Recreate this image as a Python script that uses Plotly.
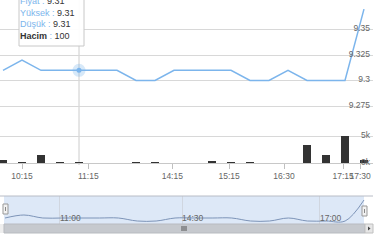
import plotly.graph_objects as go

# ---- data ----
idx = list(range(20))
price = [9.31, 9.32, 9.31, 9.31, 9.31, 9.31, 9.31, 9.30, 9.30, 9.31,
         9.31, 9.31, 9.31, 9.30, 9.30, 9.31, 9.30, 9.30, 9.30, 9.37]
volume = [550, 100, 1500, 100, 100, 0, 0, 100, 100, 0,
          0, 300, 100, 100, 0, 0, 3300, 1500, 5000, 550]
time_tick_pos = [1.0, 4.49, 8.91, 11.9, 14.79, 17.9, 18.8]
time_tick_text = ["10:15", "11:15", "14:15", "15:15", "16:30", "17:15", "17:30"]
nav_tick_pos = [2.91, 9.37, 16.67]
nav_tick_text = ["11:00", "14:30", "17:00"]
price_ticks = [9.275, 9.3, 9.325, 9.35, 9.375]
price_tick_text = ["9.275", "9.3", "9.325", "9.35", ""]
vol_ticks = [0, 5000]
vol_tick_text = ["0k", "5k"]
hover_i = 4

W, H = 380, 240
def py(p):
    return 1 - p / H
def px(p):
    return p / W

FONT = "Liberation Sans"
BLUE = "#7cb5ec"
GRID = "#d8d8d8"

fig = go.Figure()

fig.add_trace(go.Scatter(x=idx, y=price, mode="lines", line=dict(color=BLUE, width=1.5),
                         xaxis="x", yaxis="y", hoverinfo="skip"))
fig.add_trace(go.Scatter(x=[idx[hover_i]], y=[price[hover_i]], mode="markers",
                         marker=dict(size=13, color=BLUE, opacity=0.3, line=dict(width=0)),
                         xaxis="x", yaxis="y", hoverinfo="skip"))
fig.add_trace(go.Scatter(x=[idx[hover_i]], y=[price[hover_i]], mode="markers",
                         marker=dict(size=5, color=BLUE, line=dict(width=0)),
                         xaxis="x", yaxis="y", hoverinfo="skip"))
fig.add_trace(go.Bar(x=idx, y=volume, marker=dict(color="#333333", line=dict(width=0)),
                     width=0.47, xaxis="x2", yaxis="y2", hoverinfo="skip"))
fig.add_trace(go.Scatter(x=idx, y=price, mode="lines", line=dict(color="#7d94b8", width=1, shape="spline"),
                         xaxis="x3", yaxis="y3", hoverinfo="skip"))

xdom = [0, px(373)]
xr = [-0.158, 19.474]

shapes = []
shapes.append(dict(type="rect", xref="paper", yref="paper", x0=px(4), x1=px(364), y0=py(224), y1=py(196),
                   fillcolor="rgba(102,150,220,0.22)", line=dict(width=0), layer="below"))
shapes.append(dict(type="line", xref="paper", yref="paper", x0=px(0), x1=px(373), y0=py(196), y1=py(196),
                   line=dict(color="#b8bcc6", width=1)))
shapes.append(dict(type="rect", xref="paper", yref="paper", x0=px(0), x1=px(373), y0=py(233), y1=py(224),
                   fillcolor="#eeeeee", line=dict(width=0)))
shapes.append(dict(type="rect", xref="paper", yref="paper", x0=px(4), x1=px(365), y0=py(233), y1=py(224),
                   fillcolor="#c6c9ce", line=dict(color="#b8bbc0", width=1)))
shapes.append(dict(type="rect", xref="paper", yref="paper", x0=px(365), x1=px(373), y0=py(233), y1=py(224),
                   fillcolor="#e6e6e6", line=dict(color="#c0c0c0", width=1)))
shapes.append(dict(type="path", xref="paper", yref="paper",
                   path=f"M {px(368)} {py(226.5)} L {px(370.5)} {py(228.5)} L {px(368)} {py(230.5)} Z",
                   fillcolor="#444", line=dict(width=0)))
for gx in (182, 184, 186):
    shapes.append(dict(type="line", xref="paper", yref="paper", x0=px(gx), x1=px(gx), y0=py(231), y1=py(226),
                       line=dict(color="#555", width=1)))
for (hx0, hy0) in ((3, 204), (362, 206)):
    shapes.append(dict(type="rect", xref="paper", yref="paper", x0=px(hx0), x1=px(hx0 + 5), y0=py(hy0 + 10),
                       y1=py(hy0), fillcolor="#f2f2f2", line=dict(color="#999", width=1)))
    shapes.append(dict(type="line", xref="paper", yref="paper", x0=px(hx0 + 2.5), x1=px(hx0 + 2.5),
                       y0=py(hy0 + 7), y1=py(hy0 + 3), line=dict(color="#888", width=1)))
# crosshair
shapes.append(dict(type="line", xref="x", yref="paper", x0=idx[hover_i], x1=idx[hover_i], y0=py(165), y1=1,
                   line=dict(color="#cccccc", width=1), layer="below"))
# tooltip box
shapes.append(dict(type="rect", xref="paper", yref="paper", x0=px(19), x1=px(84), y0=py(46), y1=py(-10),
                   fillcolor="rgba(255,255,255,0.93)", line=dict(color="#c8c8c8", width=1)))

tooltip = (f"<span style='color:{BLUE}'>Fiyat :</span> {price[hover_i]:.2f}<br>"
           f"<span style='color:{BLUE}'>Yüksek :</span> {price[hover_i]:.2f}<br>"
           f"<span style='color:{BLUE}'>Düşük :</span> {price[hover_i]:.2f}<br>"
           f"<b>Hacim</b><span style='color:{BLUE}'> :</span> {volume[hover_i]}")

vol_lo = -1000
vol_hi = 10370
vol_bottom_px = 163 + (-vol_lo) / vol_hi * 56

fig.update_layout(
    width=W, height=H, margin=dict(l=0, r=0, t=0, b=0),
    paper_bgcolor="white", plot_bgcolor="rgba(0,0,0,0)",
    showlegend=False, bargap=0,
    font=dict(family=FONT, size=8.5, color="#666"),
    xaxis=dict(domain=xdom, range=xr, anchor="y", showticklabels=False, showgrid=False,
               zeroline=False, showline=False, fixedrange=True),
    yaxis=dict(domain=[py(111.1), py(4)], range=[9.27, 9.375], side="right", anchor="x",
               tickvals=price_ticks, ticktext=price_tick_text, ticklabelposition="inside",
               ticklabelshift=-1, showgrid=True, gridcolor=GRID, gridwidth=1, zeroline=False,
               ticks="", tickfont=dict(color="#666", size=8.5)),
    xaxis2=dict(domain=xdom, range=xr, anchor="free", position=py(163), matches="x",
                tickvals=time_tick_pos, ticktext=time_tick_text, tickangle=0,
                ticks="outside", ticklen=5, tickcolor="#c0c0c0",
                showgrid=False, zeroline=False, showline=True, linecolor="#c8c8c8",
                tickfont=dict(color="#666", size=8.5)),
    yaxis2=dict(domain=[py(vol_bottom_px), py(107)], range=[vol_lo, vol_hi], side="right", anchor="x2",
                tickvals=vol_ticks, ticktext=vol_tick_text, ticklabelposition="inside",
                ticklabelshift=-1, showgrid=True, gridcolor=GRID, zeroline=False, ticks="",
                tickfont=dict(color="#666", size=8.5)),
    xaxis3=dict(domain=xdom, range=[-0.265, 19.476], anchor="y3", tickvals=nav_tick_pos,
                ticktext=nav_tick_text, ticklabelposition="inside right", ticklabelstandoff=-5,
                ticks="", tickangle=0,
                showgrid=True, gridcolor="#d0d6e0", zeroline=False, showline=False,
                tickfont=dict(color="#666", size=8.5)),
    yaxis3=dict(domain=[py(224), py(196)], range=[9.29, 9.3833], anchor="x3",
                showticklabels=False, showgrid=False, zeroline=False),
    shapes=shapes,
    annotations=[dict(text=tooltip, xref="paper", yref="paper", x=px(20), y=py(41),
                      xanchor="left", yanchor="bottom", align="left", showarrow=False,
                      borderpad=0, borderwidth=0,
                      font=dict(family=FONT, size=9, color="#333"))],
)

fig.write_html("out.html")
